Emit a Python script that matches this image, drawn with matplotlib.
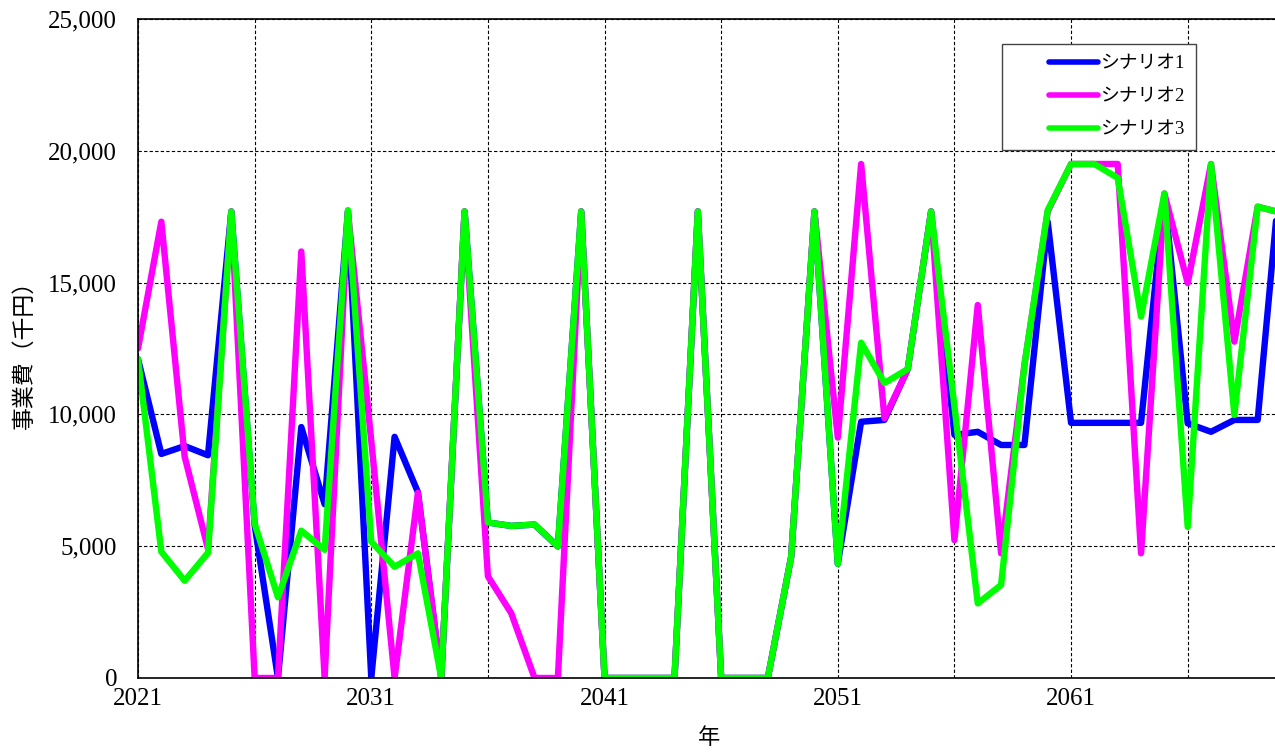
import numpy as np
import matplotlib
matplotlib.use("Agg")
import matplotlib.pyplot as plt
from matplotlib.ticker import FuncFormatter, FixedLocator
from matplotlib.legend_handler import HandlerLine2D

plt.rcParams['font.family'] = ['Liberation Serif', 'Noto Sans CJK JP']

years = np.arange(2021, 2071)

# シナリオ1
s1 = [12100, 8500, 8800, 8450, 17700, 5800, 0, 9520, 6590, 17700,
      0, 9150, 7050, 0, 17700, 5900, 5770, 5820, 4990, 17700,
      0, 0, 0, 0, 17700, 0, 0, 0, 4590, 17700,
      4330, 9720, 9790, 11720, 17700, 9220, 9340, 8840, 8840, 17300,
      9680, 9680, 9680, 9680, 18300, 9660, 9340, 9790, 9790, 19400]
# シナリオ2
s2 = [12500, 17310, 8400, 4900, 17700, 0, 0, 16180, 0, 17700,
      9000, 0, 7030, 0, 17700, 3860, 2460, 0, 0, 17700,
      0, 0, 0, 0, 17700, 0, 0, 0, 4590, 17700,
      9120, 19500, 9850, 11720, 17700, 5230, 14150, 4730, 11870, 17700,
      19500, 19500, 19500, 4730, 18380, 14980, 19500, 12760, 17880, 17650]
# シナリオ3
s3 = [12100, 4790, 3690, 4750, 17700, 5860, 3060, 5590, 4860, 17750,
      5170, 4220, 4730, 0, 17700, 5900, 5770, 5820, 4990, 17700,
      0, 0, 0, 0, 17700, 0, 0, 0, 4590, 17700,
      4330, 12720, 11190, 11720, 17700, 10300, 2830, 3530, 11870, 17750,
      19500, 19500, 18970, 13710, 18380, 5730, 19500, 9980, 17880, 17650]

labels = ['シナリオ1', 'シナリオ2', 'シナリオ3']
colors = ['#0000ff', '#ff00ff', '#00ff00']
label_years = [2021, 2031, 2041, 2051, 2061]
grid_years = [2026, 2036, 2046, 2056, 2066]


class RightLine(HandlerLine2D):
    # legend line only on the right part of the handle box
    def get_xdata(self, legend, xdescent, ydescent, width, height, fontsize):
        x0 = -xdescent + width * 0.42
        x1 = -xdescent + width
        return np.array([x0, x1]), np.array([(x0 + x1) / 2])


fig = plt.figure(figsize=(12.75, 7.53), dpi=100)
ax = fig.add_axes([138 / 1275, 1 - 678 / 753, (1281 - 138) / 1275, (678 - 19) / 753])

for data, lab, c in zip([s1, s2, s3], labels, colors):
    ax.plot(years, data, color=c, linewidth=4.6, label=lab, solid_joinstyle='round', solid_capstyle='round')

ax.set_xlim(2021, 2070)
ax.set_ylim(0, 25000)
ax.xaxis.set_major_locator(FixedLocator(label_years))
ax.xaxis.set_minor_locator(FixedLocator(grid_years))
ax.set_yticks(np.arange(0, 25001, 5000))
ax.yaxis.set_major_formatter(FuncFormatter(lambda v, p: f'{int(v):,}'))
ax.tick_params(which='both', length=0)
ax.tick_params(axis='y', labelsize=18, pad=15)
ax.tick_params(axis='x', labelsize=18, pad=7)

ax.grid(which='both', color='black', linestyle=(0, (3, 2)), linewidth=0.8)
ax.set_axisbelow(True)
for side in ['left', 'bottom', 'top']:
    ax.spines[side].set_linewidth(1.2)
ax.spines['right'].set_visible(False)

ax.set_xlabel('年', fontsize=16, family='Noto Sans CJK JP', labelpad=12)
ax.set_ylabel('事業費（千円）', fontsize=16.5, family='Noto Sans CJK JP', labelpad=9)

leg = ax.legend(loc='upper left', bbox_to_anchor=(1002 / 1275, 1 - 44 / 753), bbox_transform=fig.transFigure,
                fontsize=13.5, handlelength=4.5, handletextpad=0.15, labelspacing=0.85,
                borderpad=0.6, fancybox=False, framealpha=1, edgecolor='#444444', borderaxespad=0,
                handler_map={plt.Line2D: RightLine()})
leg.get_frame().set_linewidth(1.0)
for line in leg.get_lines():
    line.set_linewidth(4.0)

plt.savefig('out.png', dpi=100)
